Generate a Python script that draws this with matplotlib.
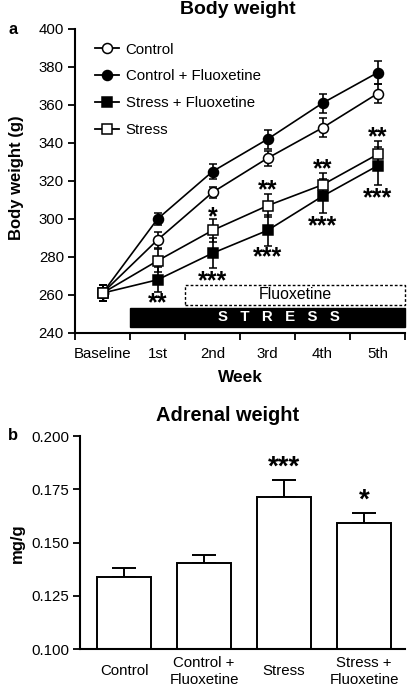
import matplotlib
matplotlib.use("Agg")
import matplotlib.pyplot as plt
from matplotlib.patches import Rectangle
from matplotlib.lines import Line2D
import numpy as np

plt.rcParams['font.family'] = ['Liberation Sans', 'DejaVu Sans']

# ---- data: body weight ----
weeks = ["Baseline", "1st", "2nd", "3rd", "4th", "5th"]
control = [261, 289, 314, 332, 348, 366]
control_err = [4, 4, 3, 4, 5, 5]
control_flx = [261, 300, 325, 342, 361, 377]
control_flx_err = [4, 3, 4, 5, 5, 6]
stress_flx = [261, 268, 282, 294, 312, 328]
stress_flx_err = [4, 6.5, 8, 8, 9, 10]
stress = [261, 278, 294, 307, 318, 334]
stress_err = [4, 6, 6, 6, 6, 7]
# significance marks: (week index, y value, text)
bw_stars = [(1, 255.5, "**"), (2, 301, "*"), (2, 267, "***"), (3, 315, "**"),
            (3, 280, "***"), (4, 326, "**"), (4, 296, "***"), (5, 343, "**"),
            (5, 311, "***")]

# ---- data: adrenal weight ----
groups = ["Control", "Control +\nFluoxetine", "Stress", "Stress +\nFluoxetine"]
adrenal = [0.134, 0.1405, 0.1715, 0.1594]
adrenal_err = [0.0043, 0.0039, 0.0080, 0.0045]
adrenal_stars = ["", "", "***", "*"]

W, H = 408, 694
fig = plt.figure(figsize=(W / 100, H / 100), dpi=100)

def fx(px):
    return px / W

def fy(py):
    return 1 - py / H

FS = 10.8
# ---------------- panel a ----------------
ax = fig.add_axes([fx(75), fy(333), fx(405) - fx(75), fy(29) - fy(333)])
x = np.arange(len(weeks)) + 0.5
lw = 1.2
ms = 7.2
common = dict(color='black', lw=lw, capsize=3, elinewidth=lw, capthick=lw,
              markersize=ms, markeredgewidth=1.1, markeredgecolor='black')
series = [
    ("Control", control, control_err, 'o', 'white'),
    ("Control + Fluoxetine", control_flx, control_flx_err, 'o', 'black'),
    ("Stress + Fluoxetine", stress_flx, stress_flx_err, 's', 'black'),
    ("Stress", stress, stress_err, 's', 'white'),
]
handles = []
for i, (lab, vals, errs, mk, fc) in enumerate(series):
    ax.errorbar(x, vals, yerr=errs, marker=mk, markerfacecolor=fc, zorder=3 + i, **common)
    handles.append(Line2D([], [], color='black', lw=1.3, marker=mk, markerfacecolor=fc,
                          markeredgecolor='black', markersize=ms, markeredgewidth=1.1,
                          label=lab))

for wi, yv, t in bw_stars:
    ax.text(x[wi], yv, t, ha='center', va='center', fontsize=18, fontweight='bold')

ax.add_patch(Rectangle((2, 254.8), 4, 10.4, fill=False, ls=(0, (2, 1.5)), lw=1.0,
                       ec='black', clip_on=False, zorder=2))
ax.text(4.0, 260, "Fluoxetine", ha='center', va='center', fontsize=11.4)
ax.add_patch(Rectangle((1, 243.3), 5, 10.1, fc='black', ec='black', clip_on=False, zorder=2))
ax.text(3.7, 248.3, "S   T   R   E   S   S", ha='center', va='center', fontsize=FS,
        color='white', fontweight='bold')

ax.set_xlim(0, 6)
ax.set_ylim(240, 400)
ax.set_yticks(np.arange(240, 401, 20))
ax.set_xticks(np.arange(0, 7))
ax.set_xticklabels([])
ax.set_xticks(x, minor=True)
ax.set_xticklabels(weeks, minor=True)
ax.tick_params(axis='x', which='minor', length=0, pad=10, labelsize=FS)
ax.tick_params(axis='x', which='major', length=5, width=1.3, direction='out')
ax.tick_params(axis='y', length=5, width=1.3, labelsize=FS, pad=3)
for s in ['top', 'right']:
    ax.spines[s].set_visible(False)
for s in ['left', 'bottom']:
    ax.spines[s].set_linewidth(1.5)

ax.legend(handles=handles, loc='upper left', bbox_to_anchor=(0.0606, 0.955),
          frameon=False, fontsize=FS, handlelength=1.6, handletextpad=0.45,
          labelspacing=0.85, borderaxespad=0, borderpad=0)

fig.text(fx(238), fy(10), "Body weight", ha='center', va='center', fontsize=14,
         fontweight='bold')
fig.text(fx(13), fy(29), "a", ha='center', va='center', fontsize=FS + 1, fontweight='bold')
fig.text(fx(17), fy(178), "Body weight (g)", ha='center', va='center', rotation=90,
         fontsize=12, fontweight='bold')
fig.text(fx(240), fy(377), "Week", ha='center', va='center', fontsize=12.4,
         fontweight='bold')

# ---------------- panel b ----------------
bx = fig.add_axes([fx(80), fy(649.3), fx(405) - fx(80), fy(436) - fy(649.3)])
pos = np.arange(len(groups))
bx.bar(pos, adrenal, width=0.675, color='white', edgecolor='black', linewidth=1.4,
       zorder=2)
bx.errorbar(pos, adrenal, yerr=[np.zeros(len(adrenal)), adrenal_err], fmt='none',
            ecolor='black', elinewidth=1.4, capsize=8.5, capthick=1.4, zorder=1)
for p, v, e, t in zip(pos, adrenal, adrenal_err, adrenal_stars):
    if t:
        bx.text(p, v + e + 0.0058, t, ha='center', va='center', fontsize=20,
                fontweight='bold')
bx.set_xlim(-0.55, 3.51)
bx.set_ylim(0.100, 0.200)
bx.set_yticks([0.100, 0.125, 0.150, 0.175, 0.200])
bx.set_yticklabels(["0.100", "0.125", "0.150", "0.175", "0.200"])
bx.set_xticks(pos)
bx.set_xticklabels(groups, va='center', linespacing=1.25)
bx.tick_params(axis='x', length=0, pad=15.8, labelsize=FS)
bx.tick_params(axis='y', length=5, width=1.3, labelsize=FS, pad=3)
for s in ['top', 'right']:
    bx.spines[s].set_visible(False)
for s in ['left', 'bottom']:
    bx.spines[s].set_linewidth(1.5)

fig.text(fx(228), fy(415), "Adrenal weight", ha='center', va='center', fontsize=14.4,
         fontweight='bold')
fig.text(fx(13), fy(436), "b", ha='center', va='center', fontsize=FS + 1, fontweight='bold')
fig.text(fx(17), fy(543), "mg/g", ha='center', va='center', rotation=90,
         fontsize=12, fontweight='bold')

fig.savefig("out.png", dpi=100)
